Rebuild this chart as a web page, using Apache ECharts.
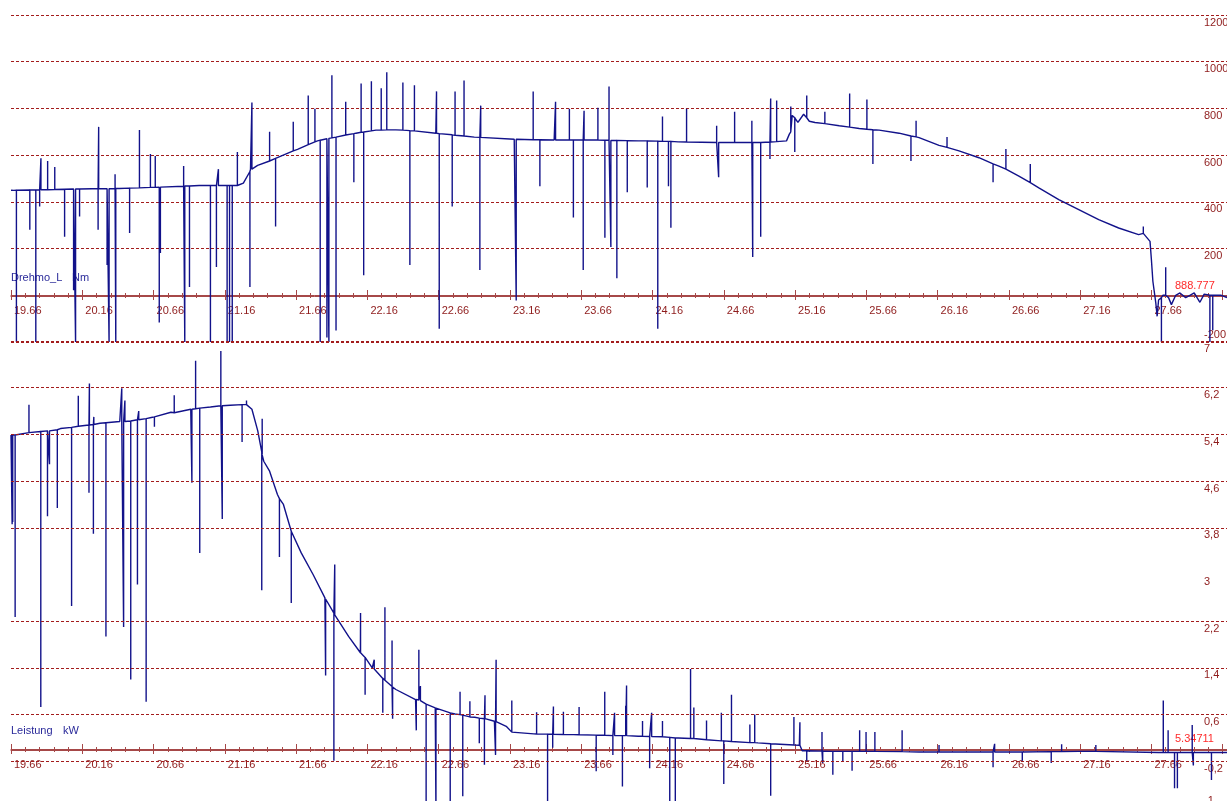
<!DOCTYPE html>
<html><head><meta charset="utf-8">
<script src="https://cdn.jsdelivr.net/npm/echarts@6/dist/echarts.min.js"></script>
<style>html,body{margin:0;padding:0;background:#fff}#c{width:1227px;height:801px}</style>
</head><body><div id="c"></div>
<script>
// ---- tick labels ----
const xTickLabels = ['19.66','20.16','20.66','21.16','21.66','22.16','22.66','23.16','23.66','24.16','24.66','25.16','25.66','26.16','26.66','27.16','27.66'];
const yLabelsTop = ['-200','','200','400','600','800','1000','1200'];
const yLabelsBottom = ['-1','-0,2','0,6','1,4','2,2','3','3,8','4,6','5,4','6,2','7'];
const bottomGridValues = [7, 6.2, 5.4, 4.6, 3.8, 2.2, 1.4, 0.6, -0.2];

// ---- Drehmo_L (Nm): base curve [x, value] ----
const torqueBase = [[19.66,450],[19.68,449],[20.23,456],[20.42,457],[20.70,463],[20.98,470],[21.25,470],[21.29,480],[21.34,539],[21.39,556],[21.53,589],[21.67,625],[21.81,661],[21.95,678],[22.08,694],[22.22,707],[22.36,708],[22.50,704],[22.64,694],[22.78,685],[22.91,677],[23.19,668],[23.47,665],[23.74,665],[24.06,661],[24.34,657],[24.62,654],[24.90,654],[25.10,661],[25.12,690],[25.14,770],[25.18,740],[25.22,775],[25.26,745],[25.30,740],[25.47,726],[25.61,714],[25.75,707],[25.89,694],[26.03,675],[26.17,642],[26.31,618],[26.45,589],[26.59,553],[26.73,510],[26.87,460],[27.01,410],[27.15,367],[27.29,324],[27.43,288],[27.57,260],[27.65,231],[27.66,150],[27.67,60],[27.69,-30],[27.70,-90],[27.71,-20],[27.74,0],[27.78,-10],[27.80,-40],[27.83,0],[27.86,10],[27.90,-10],[27.93,0],[27.96,10],[28.00,-30],[28.03,5],[28.10,0],[28.15,0],[28.19,-10]];
// spikes [x, base, tip]
const torqueSpikes = [[19.698,450,-200],[19.792,451,281],[19.834,451,-200],[19.861,452,380],[20.036,454,251],[20.099,455,22],[20.113,455,-200],[20.141,455,337],[20.271,456,281],[20.334,456,130],[20.348,456,-200],[20.395,457,-200],[20.492,459,267],[20.700,463,-117],[20.708,463,181],[20.879,468,-200],[20.912,468,35],[21.059,470,-200],[21.101,470,121],[21.176,470,-200],[21.193,470,-200],[21.212,470,-200],[21.336,530,35],[21.516,586,294],[21.829,664,-200],[21.876,670,-181],[21.890,672,-200],[21.940,677,-151],[22.065,692,484],[22.134,699,86],[22.458,705,130],[22.664,692,-143],[22.755,687,380],[22.949,676,108],[23.204,668,-22],[23.370,666,467],[23.605,665,333],[23.674,665,108],[23.826,664,246],[23.868,663,207],[23.910,663,73],[23.983,662,441],[24.123,661,462],[24.197,660,-143],[24.272,659,467],[24.289,659,289],[24.624,654,505],[24.863,654,164],[24.919,654,251],[24.984,656,583],[25.158,760,613],[25.706,709,562],[25.973,682,575],[26.549,563,484],
[19.870,452,587],[19.917,452,575],[19.967,453,549],[20.275,456,721],[20.390,457,518],[20.561,460,708],[20.638,462,605],[20.672,462,596],[20.871,467,553],[21.115,470,540],[21.248,470,613],[21.350,540,825],[21.474,575,700],[21.640,618,743],[21.745,645,855],[21.792,657,799],[21.911,674,942],[22.008,686,829],[22.116,698,907],[22.188,704,916],[22.257,707,886],[22.296,708,955],[22.409,707,911],[22.490,704,899],[22.645,694,873],[22.775,685,873],[22.838,682,920],[22.955,676,812],[23.323,666,873],[23.480,665,829],[23.577,665,799],[23.680,665,790],[23.777,665,803],[23.855,664,894],[24.230,659,765],[24.399,656,799],[24.610,654,726],[24.736,654,786],[24.857,654,747],[24.989,656,842],[25.031,658,834],[25.130,700,808],[25.242,760,855],[25.369,735,786],[25.543,720,864],[25.664,711,838],[26.009,678,747],[26.226,633,678],[26.639,540,626],[26.810,482,562],[27.603,265,294],
[27.73,-10,-200],[27.76,0,120],[28.07,0,-200],[28.09,0,-150]];

// ---- Leistung (kW): base curve [x, value] ----
const powerBase = [[19.66,5.39],[19.676,5.39],[19.786,5.43],[19.869,5.45],[20.007,5.50],[20.146,5.54],[20.284,5.59],[20.423,5.62],[20.561,5.65],[20.644,5.69],[20.782,5.78],[20.921,5.83],[21.059,5.87],[21.198,5.90],[21.322,5.91],[21.350,5.83],[21.391,5.46],[21.433,4.94],[21.474,4.77],[21.529,4.37],[21.571,4.20],[21.626,3.74],[21.696,3.37],[21.779,3.00],[21.862,2.60],[21.931,2.31],[22.028,1.94],[22.111,1.66],[22.194,1.40],[22.277,1.20],[22.360,1.03],[22.498,0.857],[22.636,0.714],[22.775,0.611],[22.913,0.554],[23.051,0.486],[23.134,0.40],[23.176,0.286],[23.328,0.269],[23.605,0.257],[23.78,0.247],[24.06,0.23],[24.34,0.20],[24.62,0.155],[24.90,0.115],[25.19,0.075],[25.21,-0.02],[25.47,-0.03],[26.03,-0.04],[26.59,-0.04],[27.15,-0.03],[27.71,-0.05],[28.19,-0.05]];
// spikes [x, base, tip]
const powerSpikes = [[19.668,5.39,3.86],[19.672,5.39,3.9],[19.689,5.39,2.27],[19.869,5.45,0.73],[19.916,5.46,4.0],[19.930,5.46,4.89],[19.985,5.48,4.14],[20.085,5.52,2.46],[20.207,5.56,4.4],[20.238,5.57,3.70],[20.326,5.60,1.94],[20.450,5.62,2.10],[20.500,5.63,1.2],[20.547,5.65,2.83],[20.608,5.67,0.82],[20.666,5.70,5.53],[20.929,5.83,4.57],[20.984,5.85,3.37],[21.142,5.89,3.95],[21.281,5.91,5.27],[21.419,5.10,2.73],[21.543,4.30,3.30],[21.626,3.74,2.51],[21.867,2.58,1.27],[21.925,2.34,-0.19],[22.144,1.58,0.94],[22.268,1.22,0.63],[22.337,1.07,0.53],[22.503,0.86,0.33],[22.572,0.78,-1.1],[22.641,0.71,-1.1],[22.741,0.63,-1.1],[22.829,0.59,-0.8],[22.945,0.54,0.11],[22.981,0.53,-0.26],[23.059,0.48,-0.09],[23.424,0.265,-1.1],[23.460,0.263,0.03],[23.765,0.248,-0.37],[23.882,0.24,-0.09],[23.949,0.24,-0.63],[24.140,0.225,-0.32],[24.281,0.21,-1.1],[24.320,0.20,-1.1],[24.660,0.15,-0.59],[24.989,0.10,-0.79],[25.242,-0.02,-0.19],[25.354,-0.025,-0.23],[25.425,-0.03,-0.43],[25.495,-0.03,-0.21],[25.560,-0.03,-0.36],[26.549,-0.04,-0.3],[26.754,-0.04,-0.19],[26.957,-0.035,-0.23],[27.822,-0.05,-0.66],[27.842,-0.05,-0.66],[27.954,-0.05,-0.27],[28.081,-0.05,-0.52],
[19.786,5.43,5.91],[20.132,5.54,6.06],[20.210,5.56,6.27],[20.241,5.57,5.70],[20.437,5.62,6.19],[20.459,5.62,5.98],[20.556,5.65,5.80],[20.805,5.77,6.07],[20.955,5.84,6.66],[21.132,5.89,6.83],[21.312,5.91,5.98],[21.422,5.05,5.67],[21.931,2.31,3.17],[22.112,1.66,2.34],[22.208,1.38,1.54],[22.283,1.19,2.44],[22.333,1.08,1.87],[22.521,0.85,1.71],[22.532,0.84,1.09],[22.810,0.60,0.99],[22.879,0.56,0.83],[22.985,0.53,0.93],[23.063,0.48,1.54],[23.173,0.30,0.84],[23.347,0.268,0.64],[23.465,0.263,0.74],[23.535,0.26,0.65],[23.645,0.255,0.73],[23.825,0.245,0.99],[23.894,0.24,0.63],[23.972,0.24,0.75],[23.978,0.24,1.10],[24.090,0.23,0.49],[24.154,0.225,0.63],[24.230,0.22,0.49],[24.427,0.19,1.38],[24.450,0.19,0.72],[24.539,0.17,0.5],[24.643,0.15,0.63],[24.714,0.14,0.94],[24.843,0.12,0.43],[24.877,0.12,0.60],[25.152,0.08,0.56],[25.194,0.075,0.47],[25.349,-0.025,0.30],[25.613,-0.03,0.33],[25.658,-0.03,0.30],[25.720,-0.03,0.30],[25.911,-0.035,0.33],[26.17,-0.04,0.08],[26.56,-0.04,0.10],[27.03,-0.035,0.09],[27.27,-0.03,0.08],[27.743,-0.05,0.84],[27.777,-0.05,0.33],[27.946,-0.05,0.42]];

// ---- build polyline data ----
function build(base, spikes){
  const pts = base.map(p => ({x:p[0], y:p[1], o:0}));
  spikes.forEach(s => { pts.push({x:s[0],y:s[1],o:1},{x:s[0],y:s[2],o:2},{x:s[0],y:s[1],o:3}); });
  pts.sort((a,b) => (a.x - b.x) || (a.o - b.o));
  return pts.map(p => [p.x, p.y]);
}

const FONT = 'Liberation Sans, Arial, sans-serif';
const axisCol = '#a64848', labCol = '#8e1b1b', gridCol = '#a31c1c', lineCol = '#12128a', navy = '#2a2a9a', red = '#ff2a2a';
const XMIN = 19.66, XMAX = 28.19, XSTEP = 0.5;

function hiddenX(gi){ return {type:'value', gridIndex:gi, min:XMIN, max:XMAX, show:false}; }
function hiddenY(gi){ return {type:'value', gridIndex:gi, min:0, max:1, show:false}; }
function axisX(gi, lower){
  return {
    type:'value', gridIndex:gi, min:XMIN, max:XMAX, interval:XSTEP, position: lower ? 'bottom' : 'top',
    axisLine:{show:true, onZero:false, lineStyle:{color:axisCol, width:1}},
    axisTick:{show:true, length: lower ? 4 : 5, lineStyle:{color:axisCol, width:1}},
    minorTick:{show:true, splitNumber:5, length:2, lineStyle:{color:axisCol, width:1}},
    axisLabel: lower ? {show:true, align:'left', margin:9, padding:[0,0,0,3], color:labCol, fontSize:11, fontFamily:FONT,
      showMaxLabel:false, formatter:(v,i) => (xTickLabels[i] !== undefined ? xTickLabels[i] : '')} : {show:false},
    splitLine:{show:false}, minorSplitLine:{show:false}
  };
}
function mkY(gi, min, max, step, labels, split){
  return {
    type:'value', gridIndex:gi, position:'right', min:min, max:max, interval:step,
    axisLine:{show:false}, axisTick:{show:false},
    axisLabel:{inside:true, align:'left', margin:23, color:labCol, fontSize:11, fontFamily:FONT, lineHeight:15, verticalAlign:'middle',
      formatter:(v,i) => { const l = labels[i] || ''; if (!l) return ''; return i === 0 ? l + '\n' : '\n' + l; }},
    splitLine:{show:split, lineStyle:{color:gridCol, type:[3,2], width:1}}
  };
}

const G = {left:11, right:0, outerBoundsMode:'none', containLabel:false};
const chart = echarts.init(document.getElementById('c'));
chart.setOption({
  animation:false,
  backgroundColor:'#ffffff',
  grid:[
    Object.assign({top:15, height:327}, G),
    Object.assign({top:341, height:467}, G),
    Object.assign({top:295, height:1}, G),
    Object.assign({top:749, height:1}, G)
  ],
  xAxis:[hiddenX(0), hiddenX(1), axisX(2,true), axisX(2,false), axisX(3,true), axisX(3,false)],
  yAxis:[mkY(0,-200,1200,200,yLabelsTop,true), mkY(1,-1,7,0.8,yLabelsBottom,false), hiddenY(2), hiddenY(3)],
  series:[
    {type:'line', name:'Drehmo_L', xAxisIndex:0, yAxisIndex:0, data:build(torqueBase, torqueSpikes), symbol:'none', showSymbol:false,
      lineStyle:{color:lineCol, width:1.4}, z:3, silent:true},
    {type:'line', name:'grid', xAxisIndex:1, yAxisIndex:1, data:[], symbol:'none', z:1, silent:true,
      markLine:{silent:true, symbol:['none','none'], label:{show:false}, animation:false,
        lineStyle:{color:gridCol, type:[3,2], width:1},
        data: bottomGridValues.map(v => ({yAxis:v}))}},
    {type:'line', name:'Leistung', xAxisIndex:1, yAxisIndex:1, data:build(powerBase, powerSpikes), symbol:'none', showSymbol:false,
      lineStyle:{color:lineCol, width:1.4}, z:3, silent:true}
  ],
  graphic:[
    {type:'text', left:11, top:272, style:{text:'Drehmo_L', fill:navy, font:'11px ' + FONT}},
    {type:'text', left:72, top:272, style:{text:'Nm', fill:navy, font:'11px ' + FONT}},
    {type:'text', left:11, top:725, style:{text:'Leistung', fill:navy, font:'11px ' + FONT}},
    {type:'text', left:63, top:725, style:{text:'kW', fill:navy, font:'11px ' + FONT}},
    {type:'text', left:1175, top:280, style:{text:'888.777', fill:red, font:'11px ' + FONT}},
    {type:'text', left:1175, top:733, style:{text:'5.34711', fill:red, font:'11px ' + FONT}}
  ]
});
</script></body></html>
